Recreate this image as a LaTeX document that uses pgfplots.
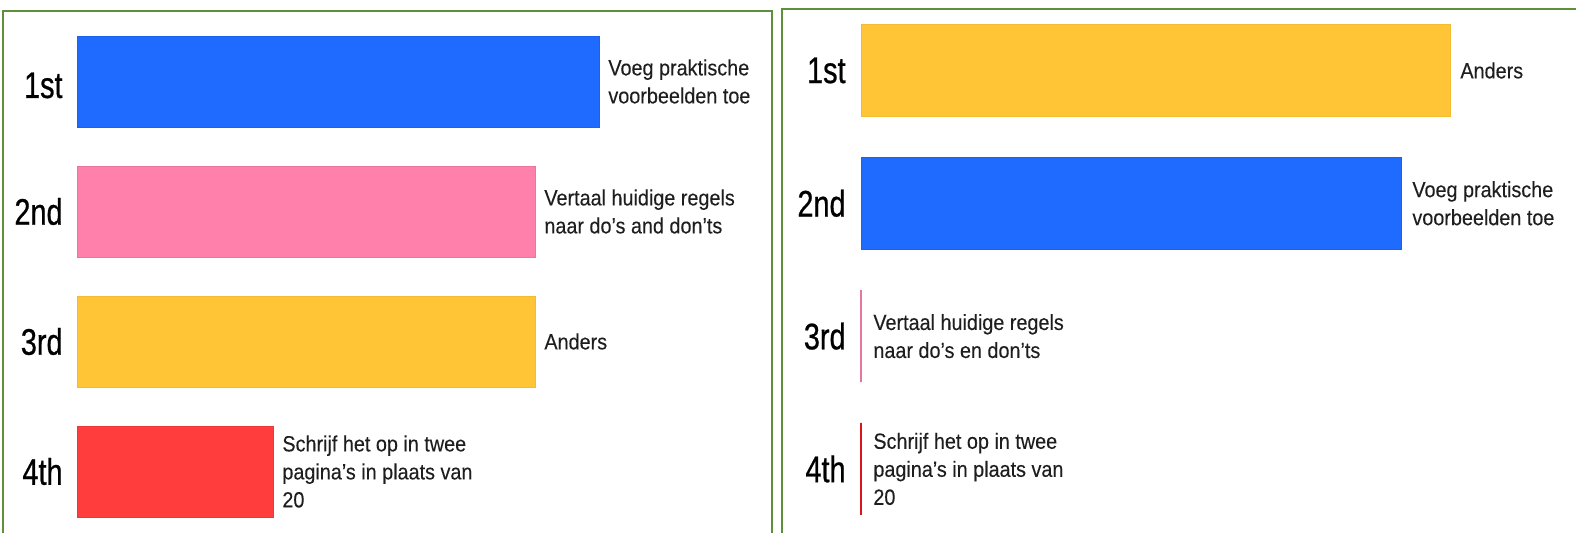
\documentclass[border=0pt]{standalone}
\usepackage{fontspec}
\setmainfont{Liberation Sans}
\newfontfamily\ordfont[FakeStretch=0.78,FakeBold=0.6]{Liberation Sans}
\newfontfamily\lblfont[FakeStretch=0.9,FakeBold=0.15]{Liberation Sans}
\usepackage{pgfplots}
\pgfplotsset{compat=1.18}
\definecolor{cblue}{HTML}{1F6BFF}
\definecolor{cpink}{HTML}{FF80AA}
\definecolor{cyellow}{HTML}{FFC536}
\definecolor{cred}{HTML}{FF3D3D}
\definecolor{cpinkline}{HTML}{E8769C}
\definecolor{credline}{HTML}{D9161C}
\definecolor{cframe}{HTML}{5E8F3A}
\definecolor{ctext}{HTML}{1E1E1E}
\pgfplotsset{panel/.style={
  scale only axis, xbar, bar shift=0pt, y dir=reverse,
  axis line style={cframe, line width=1pt},
  xtick=\empty, ytick=\empty, clip=false,
  anchor=north west,
}}
\tikzset{
ord/.style={anchor=east, inner sep=0pt, font=\ordfont\fontsize{18.5}{20}\selectfont, text=black},
lbl/.style={anchor=west, align=left, inner sep=0pt, font=\lblfont\fontsize{11}{14}\selectfont, text=ctext}
}
\begin{document}
\begin{tikzpicture}[x=1pt,y=1pt]
% left panel
\begin{axis}[panel, at={(1.5pt,260.5pt)}, width=384.5pt, height=265.5pt,
  xmin=-74, xmax=695, ymin=0.4577, ymax=4.5423]
\addplot[fill=cblue, draw=cblue!92!black, bar width=0.7] coordinates {(522,1)};
\addplot[fill=cpink, draw=cpink!92!black, bar width=0.7] coordinates {(458,2)};
\addplot[fill=cyellow, draw=cyellow!95!black, bar width=0.7] coordinates {(458,3)};
\addplot[fill=cred, draw=cred!92!black, bar width=0.7] coordinates {(196,4)};
\node[ord] at (axis cs:-14,1.03) {1st};
\node[ord] at (axis cs:-14,2) {2nd};
\node[ord] at (axis cs:-14,3) {3rd};
\node[ord] at (axis cs:-14,4) {4th};
\node[lbl] at (axis cs:531,1) {Voeg praktische\\voorbeelden toe};
\node[lbl] at (axis cs:467,2) {Vertaal huidige regels\\naar do’s and don’ts};
\node[lbl] at (axis cs:467,3) {Anders};
\node[lbl] at (axis cs:205,4) {Schrijf het op in twee\\pagina’s in plaats van\\20};
\end{axis}
% right panel
\begin{axis}[panel, at={(391pt,261.5pt)}, width=404pt, height=268pt,
  xmin=-79, xmax=729, ymin=0.537, ymax=4.573]
\addplot[fill=cyellow, draw=cyellow!95!black, bar width=0.693] coordinates {(589,1)};
\addplot[fill=cblue, draw=cblue!92!black, bar width=0.693] coordinates {(540,2)};
\addplot[draw=cpinkline, line width=1pt, bar width=0.693] coordinates {(0,3)};
\addplot[draw=credline, line width=1pt, bar width=0.693] coordinates {(0,4)};
\node[ord] at (axis cs:-15,1) {1st};
\node[ord] at (axis cs:-15,2) {2nd};
\node[ord] at (axis cs:-15,3) {3rd};
\node[ord] at (axis cs:-15,4) {4th};
\node[lbl] at (axis cs:599,1) {Anders};
\node[lbl] at (axis cs:551,2) {Voeg praktische\\voorbeelden toe};
\node[lbl] at (axis cs:12,3) {Vertaal huidige regels\\naar do’s en don’ts};
\node[lbl] at (axis cs:12,4) {Schrijf het op in twee\\pagina’s in plaats van\\20};
\end{axis}
\pgfresetboundingbox
\path[use as bounding box] (0,0) rectangle (788,266);
\end{tikzpicture}
\end{document}
